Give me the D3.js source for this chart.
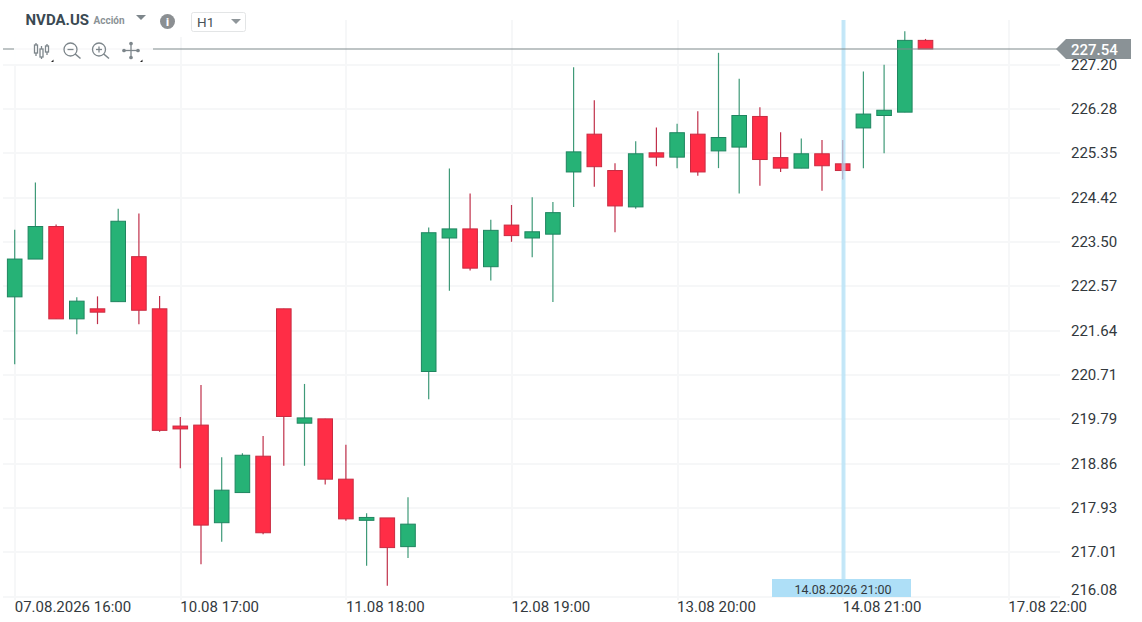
<!DOCTYPE html>
<html><head><meta charset="utf-8">
<script src="https://cdn.jsdelivr.net/npm/d3@7/dist/d3.min.js"></script>
<style>html,body{margin:0;padding:0;background:#fff}svg{display:block}text{font-family:Roboto,sans-serif}</style>
</head><body><svg id="c" width="1142" height="622"></svg>
<script>
const opens =[222.34,223.13,223.81,221.88,222.09,222.24,223.18,222.09,219.64,219.66,217.62,218.25,219.01,222.09,219.70,219.79,218.53,217.67,217.72,217.12,220.78,223.57,223.76,222.97,223.84,223.57,223.65,224.95,225.74,224.98,224.22,225.35,225.26,225.74,225.39,225.47,226.11,225.25,225.03,225.33,225.12,225.87,226.13,226.20,227.70];
const highs =[223.74,224.73,223.85,222.33,222.35,224.18,224.08,222.36,219.83,220.50,218.99,219.07,219.43,222.09,220.52,219.79,219.25,217.82,217.72,218.15,223.79,225.02,224.50,223.95,224.26,224.42,224.32,227.14,226.45,225.13,225.59,225.88,225.96,226.22,227.44,226.90,226.30,225.78,225.65,225.62,225.62,227.05,227.19,227.89,227.73];
const lows  =[220.93,223.13,221.88,221.56,221.77,222.24,221.77,219.52,218.76,216.75,217.22,218.25,217.38,218.81,218.81,218.42,217.66,216.72,216.30,216.88,220.20,222.47,222.89,222.68,223.49,223.17,222.23,224.22,224.64,223.69,224.18,225.07,225.03,224.87,225.03,224.50,224.66,224.95,225.03,224.56,224.79,225.03,225.34,226.20,227.52];
const closes=[223.13,223.81,221.88,222.25,222.02,223.92,222.06,219.55,219.58,217.57,218.30,219.03,217.41,219.84,219.81,218.53,217.70,217.73,217.10,217.59,223.68,223.76,222.94,223.73,223.62,223.70,224.10,225.37,225.06,224.24,225.33,225.26,225.77,224.95,225.67,226.13,225.21,225.03,225.33,225.08,224.98,226.16,226.24,227.70,227.52];
const priceTicks=[227.20,226.28,225.35,224.42,223.50,222.57,221.64,220.71,219.79,218.86,217.93,217.01,216.08];
const timeTickIndex=[0,8,16,24,32,40,48];
const timeTickLabels=["07.08.2026 16:00","10.08 17:00","11.08 18:00","12.08 19:00","13.08 20:00","14.08 21:00","17.08 22:00"];
const symbol="NVDA.US", assetType="Acción", timeframe="H1";
const lastPriceLabel="227.54";
const crosshairIndex=40, crosshairLabel="14.08.2026 21:00";

const svg=d3.select("#c");
const x=d3.scaleLinear().domain([0,48]).range([14.7,1008.3]);
const y=d3.scaleLinear().domain([216.08,227.20]).range([596.4,64.3]);
const gridC="#f6f7f8", txt="#33393d";

// grid + axes
const gy=svg.append("g").attr("transform","translate(3,0)")
  .call(d3.axisRight(y).tickValues(priceTicks).tickFormat(d3.format(".2f")).tickSize(1057).tickPadding(11));
gy.select(".domain").remove();
gy.selectAll("line").attr("stroke",gridC).attr("stroke-width",2).attr("shape-rendering","crispEdges");
gy.selectAll("text").attr("fill",txt).style("font-size","15px").style("font-family","Roboto,sans-serif");
gy.selectAll(".tick").filter(d=>d===216.08).select("text").attr("dy","-0.15em").attr("y",0);

const gx=svg.append("g").attr("transform","translate(0,600)")
  .call(d3.axisTop(x).tickValues(timeTickIndex).tickFormat((d,i)=>timeTickLabels[i]).tickSize(580));
gx.select(".domain").remove();
gx.selectAll("line").attr("stroke",gridC).attr("stroke-width",2).attr("shape-rendering","crispEdges");
gx.selectAll("text").attr("fill",txt).attr("text-anchor","start").attr("y",0).attr("dy",0)
  .attr("transform","translate(-0.5,12)").style("font-size","15px").style("font-family","Roboto,sans-serif");

// candles
const up=i=>closes[i]>=opens[i];
const idx=d3.range(opens.length);
const cw=14.6;
const g=svg.append("g");
g.selectAll("line.w").data(idx).join("line").attr("class","w")
  .attr("x1",i=>x(i)).attr("x2",i=>x(i)).attr("y1",i=>y(highs[i])).attr("y2",i=>y(lows[i]))
  .attr("stroke",i=>up(i)?"#3f9a78":"#c0304a").attr("stroke-width",1.2);
g.selectAll("rect.b").data(idx).join("rect").attr("class","b")
  .attr("x",i=>x(i)-cw/2).attr("width",cw)
  .attr("y",i=>y(Math.max(opens[i],closes[i])))
  .attr("height",i=>Math.max(1,Math.abs(y(opens[i])-y(closes[i]))))
  .attr("fill",i=>up(i)?"#26b276":"#ff2d46")
  .attr("stroke",i=>up(i)?"#1f8560":"#c92b41").attr("stroke-width",1);

// crosshair
const cx=x(crosshairIndex);
svg.append("rect").attr("x",cx-1.2).attr("y",20).attr("width",4).attr("height",559).attr("fill","#aedff7").attr("opacity",.72);
svg.append("rect").attr("x",772).attr("y",579).attr("width",139).attr("height",18).attr("fill","#aedff7");
svg.append("text").attr("x",843).attr("y",594).attr("text-anchor","middle").attr("fill",txt).style("font-size","12.5px").text(crosshairLabel);

// last price
const ly=y(closes[closes.length-1]);
svg.append("line").attr("x1",3).attr("x2",1060).attr("y1",ly).attr("y2",ly).attr("stroke","#7f8a8c").attr("stroke-width",1.1);
svg.append("path").attr("d",d3.line()([[1056,ly],[1066,ly-10],[1131,ly-10],[1131,ly+10],[1066,ly+10]])+"Z").attr("fill","#8a9296");
svg.append("text").attr("x",1071).attr("y",ly+6).attr("fill","#fff").style("font-size","15px").style("font-weight","500").text(lastPriceLabel);

// toolbar
svg.append("rect").attr("x",14).attr("y",37).attr("width",139).attr("height",27).attr("fill","#fff").attr("fill-opacity",.9);
svg.append("rect").attr("x",0).attr("y",0).attr("width",254).attr("height",37).attr("fill","#fff");
svg.append("text").attr("x",25.5).attr("y",25).attr("fill","#3a4952").style("font-size","15px").style("font-weight","700").text(symbol);
svg.append("text").attr("x",93.5).attr("y",24).attr("fill","#8a9296").style("font-size","10px").style("font-weight","700").text(assetType);
svg.append("path").attr("d","M136 15h10l-5 5z").attr("fill","#7d868b");
svg.append("circle").attr("cx",167.5).attr("cy",21.5).attr("r",7.5).attr("fill","#8b8f92");
svg.append("text").attr("x",167.5).attr("y",25.5).attr("text-anchor","middle").attr("fill","#fff").style("font-size","11px").style("font-weight","900").text("i");
svg.append("rect").attr("x",191.5).attr("y",12.5).attr("width",54).attr("height",19).attr("rx",2).attr("fill","#fff").attr("stroke","#e3e5e6");
svg.append("text").attr("x",197).attr("y",27).attr("fill","#4a5358").style("font-size","13.5px").text(timeframe);
svg.append("path").attr("d","M231 19h10l-5 5z").attr("fill","#8f969a");
const ic=svg.append("g").attr("fill","none").attr("stroke","#7d868b").attr("stroke-width",1.3);
// candle icon
[[36,43,56,45,53],[41.5,46,59,49,57],[47,44,55,46,52]].forEach(d=>{
  ic.append("line").attr("x1",d[0]).attr("x2",d[0]).attr("y1",d[1]).attr("y2",d[2]);
  ic.append("rect").attr("x",d[0]-1.5).attr("y",d[3]).attr("width",3).attr("height",d[4]-d[3]).attr("fill","#fff");
});
// zoom icons
[[70.5,"-"],[99,"+"]].forEach(d=>{
  ic.append("circle").attr("cx",d[0]).attr("cy",49.5).attr("r",6.5);
  ic.append("line").attr("x1",d[0]+4.7).attr("y1",54).attr("x2",d[0]+10).attr("y2",58.5).attr("stroke-width",1.6);
  ic.append("line").attr("x1",d[0]-3).attr("x2",d[0]+3).attr("y1",49.5).attr("y2",49.5);
  if(d[1]==="+") ic.append("line").attr("x1",d[0]).attr("x2",d[0]).attr("y1",46.5).attr("y2",52.5);
});
// move icon
ic.append("line").attr("x1",123.5).attr("x2",138.5).attr("y1",50.5).attr("y2",50.5);
ic.append("line").attr("x1",131).attr("x2",131).attr("y1",43).attr("y2",58);
[[131,43.5],[131,57.5],[124,50.5],[138,50.5]].forEach(p=>ic.append("circle").attr("cx",p[0]).attr("cy",p[1]).attr("r",1.2).attr("fill","#7d868b"));
[[51,62],[140,62]].forEach(p=>svg.append("path").attr("d",`M${p[0]} ${p[1]}h2.5v-2.5z`).attr("fill","#222"));
</script></body></html>
